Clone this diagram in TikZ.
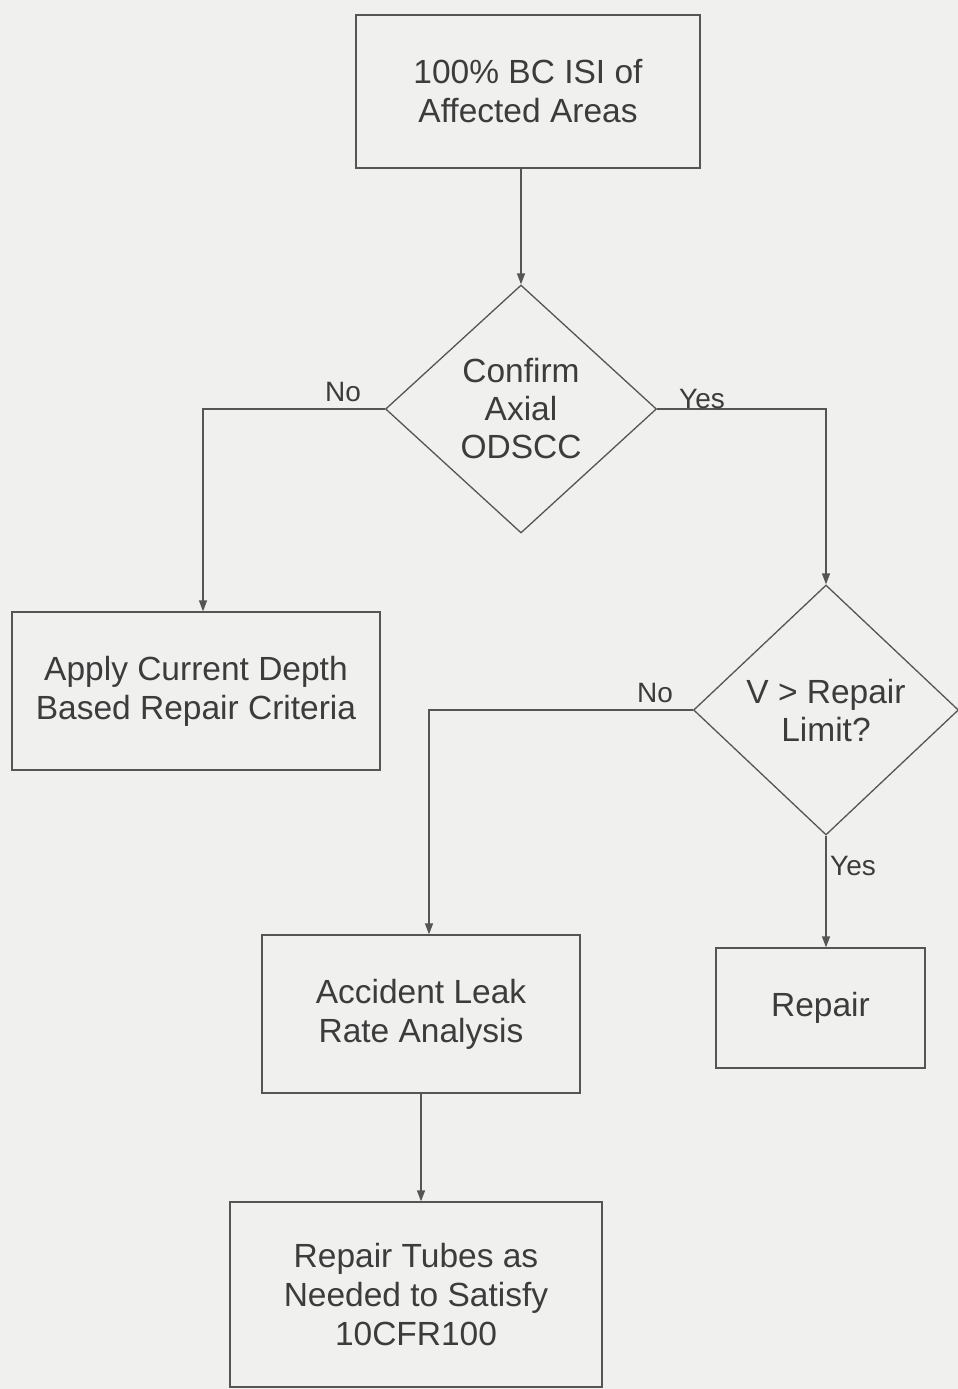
\documentclass[tikz,border=0pt]{standalone}
\usepackage{fontspec}
\setmainfont{Liberation Sans}
\usetikzlibrary{shapes.geometric,arrows.meta}
\definecolor{bg}{RGB}{240,240,239}
\definecolor{ink}{RGB}{85,85,85}
\definecolor{txt}{RGB}{60,60,60}
\begin{document}
\begin{tikzpicture}[x=1pt,y=-1pt,
  every node/.style={text=txt},
  box/.style={draw=ink,line width=1.3pt,rectangle,inner sep=0pt,align=center,
    font=\fontsize{33.5}{39}\selectfont},
  dia/.style={draw=ink,line width=1.3pt,diamond,inner sep=0pt,align=center,
    font=\fontsize{33.5}{38}\selectfont},
  lbl/.style={font=\fontsize{28}{32}\selectfont,inner sep=2pt},
  conn/.style={draw=ink,line width=1.3pt},
  arr/.style={conn,-{Triangle[length=11pt,width=8pt]}}]
\fill[bg] (0,0) rectangle (958,1389);
\useasboundingbox (0,0) rectangle (958,1389);

\node[box,minimum width=344pt,minimum height=153pt] (b1) at (528,91.5)
  {100\% BC ISI of\\Affected Areas};
\node[dia,minimum width=271pt,minimum height=248pt] (d1) at (521,409)
  {Confirm\\Axial\\ODSCC};
\node[box,minimum width=368pt,minimum height=158pt] (b2) at (196,691)
  {Apply Current Depth\\Based Repair Criteria};
\node[dia,minimum width=265pt,minimum height=250pt] (d2) at (826,710)
  {V > Repair\\Limit?};
\node[box,minimum width=318pt,minimum height=158pt] (b3) at (421,1014)
  {Accident Leak\\Rate Analysis};
\node[box,minimum width=209pt,minimum height=120pt] (b4) at (820.5,1008)
  {Repair};
\node[box,minimum width=372pt,minimum height=185pt] (b5) at (416,1294.5)
  {Repair Tubes as\\Needed to Satisfy\\10CFR100};

\coordinate (c1) at ([xshift=7pt]b2.north);
\coordinate (c2) at ([xshift=8pt]b3.north);

\draw[arr] (d1.north |- b1.south) -- (d1.north);
\draw[arr] (d1.west) -| (c1);
\draw[arr] (d1.east) -| (d2.north);
\draw[arr] (d2.west) -| (c2);
\draw[arr] (d2.south) -- (d2.south |- b4.north);
\draw[arr] (b3.south) -- (b3.south |- b5.north);

\node[lbl,anchor=south] (no1) at (343,404) {No};
\node[lbl,anchor=south] (yes1) at (702,411) {Yes};
\node[lbl,anchor=south] (no2) at (655,705) {No};
\node[lbl,anchor=west] (yes2) at (828,866) {Yes};
\end{tikzpicture}
\end{document}
